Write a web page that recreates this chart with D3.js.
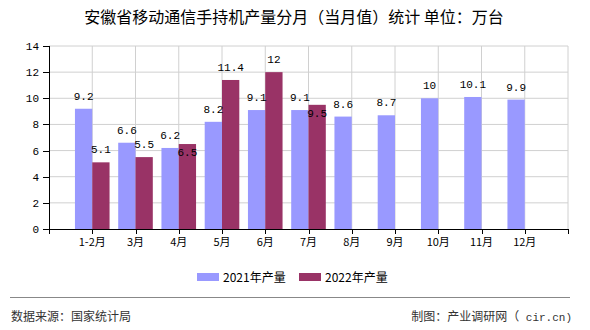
<!DOCTYPE html>
<html><head><meta charset="utf-8">
<script src="https://cdn.jsdelivr.net/npm/d3@7"></script>
<style>body{margin:0;background:#fff}svg{display:block}</style>
</head><body><svg id="c" width="590" height="330"></svg>
<script>
const categories = ["1-2月","3月","4月","5月","6月","7月","8月","9月","10月","11月","12月"];
const values2021 = [9.2,6.6,6.2,8.2,9.1,9.1,8.6,8.7,10,10.1,9.9];
const values2022 = [5.1,5.5,6.5,11.4,12,9.5,null,null,null,null,null];
const seriesNames = ["2021年产量","2022年产量"];
const yTicks = [0,2,4,6,8,10,12,14];
const colors = ["#9999FF","#993366"];

const svg = d3.select("#c");
const L=49,R=568,T=46,B=229;
const x = d3.scalePoint().domain(categories).range([L,R]).padding(1);
const y = d3.scaleLinear().domain([0,14]).range([B,T]);
const bw = x.step()*0.4;
const numFont = "'Liberation Mono','DejaVu Sans Mono',monospace";
const cjk = "'Noto Sans CJK SC','Noto Sans',sans-serif";

svg.append("text").attr("x",294).attr("y",23).attr("text-anchor","middle")
  .attr("font-family",cjk).attr("font-size",16).attr("fill","#000")
  .text("安徽省移动通信手持机产量分月（当月值）统计 单位：万台");

const g = svg.append("g");
// grid
g.selectAll(".hg").data(yTicks.filter(d=>d>0)).enter().append("line")
  .attr("x1",L).attr("x2",R).attr("y1",d=>y(d)).attr("y2",d=>y(d))
  .attr("stroke","#d0d0d0").attr("stroke-width",1);
const vx = [L].concat(categories.map(c=>x(c))).concat([R]);
g.selectAll(".vg").data(vx.slice(1)).enter().append("line")
  .attr("x1",d=>d).attr("x2",d=>d).attr("y1",T).attr("y2",B)
  .attr("stroke","#d0d0d0").attr("stroke-width",1);

// bars
g.selectAll(".b1").data(values2021).enter().append("rect")
  .attr("x",(d,i)=>x(categories[i])-bw).attr("width",bw)
  .attr("y",d=>y(d)).attr("height",d=>B-y(d)).attr("fill",colors[0]);
g.selectAll(".b2").data(values2022.map((v,i)=>({v,i})).filter(d=>d.v!=null)).enter().append("rect")
  .attr("x",d=>x(categories[d.i])).attr("width",bw)
  .attr("y",d=>y(d.v)).attr("height",d=>B-y(d.v)).attr("fill",colors[1]);

// axes
g.append("line").attr("x1",L+0.5).attr("x2",L+0.5).attr("y1",T).attr("y2",B+0.5).attr("stroke","#000");
g.append("line").attr("x1",L).attr("x2",R+0.5).attr("y1",B+0.5).attr("y2",B+0.5).attr("stroke","#000");
g.selectAll(".yt").data(yTicks).enter().append("line")
  .attr("x1",L-6).attr("x2",L).attr("y1",d=>Math.round(y(d))+0.5).attr("y2",d=>Math.round(y(d))+0.5).attr("stroke","#000");
g.selectAll(".yl").data(yTicks).enter().append("text")
  .attr("x",L-10).attr("y",d=>y(d)+4).attr("text-anchor","end")
  .attr("font-family",numFont).attr("font-size",11).attr("fill","#000").text(d=>d);
g.selectAll(".xt").data(vx).enter().append("line")
  .attr("x1",d=>Math.round(d)+0.5).attr("x2",d=>Math.round(d)+0.5).attr("y1",B).attr("y2",B+5).attr("stroke","#000");
g.selectAll(".xl").data(categories).enter().append("text")
  .attr("x",d=>x(d)).attr("y",B+17).attr("text-anchor","middle")
  .attr("font-family",cjk).attr("font-size",11).attr("fill","#000").text(d=>d);

// labels
const lab1 = values2021.map((v,i)=>({v,i,base:y(v)-9}));
g.selectAll(".l1").data(lab1).enter().append("text")
  .attr("x",d=>x(categories[d.i])-bw/2).attr("y",d=>d.base).attr("text-anchor","middle")
  .attr("font-family",numFont).attr("font-size",11).attr("fill","#000").text(d=>d.v);
const lab2 = values2022.map((v,i)=>({v,i})).filter(d=>d.v!=null).map(d=>{
  let base = y(d.v)-9;
  if (Math.abs(base - lab1[d.i].base) < 12) base = y(d.v)+12;
  return {...d, base};
});
g.selectAll(".l2").data(lab2).enter().append("text")
  .attr("x",d=>x(categories[d.i])+bw/2).attr("y",d=>d.base).attr("text-anchor","middle")
  .attr("font-family",numFont).attr("font-size",11).attr("fill","#000").text(d=>d.v);

// legend
const lx = [197,299];
seriesNames.forEach((n,i)=>{
  svg.append("rect").attr("x",lx[i]).attr("y",273).attr("width",22).attr("height",8).attr("fill",colors[i]);
  svg.append("text").attr("x",lx[i]+26).attr("y",282).attr("font-family",cjk).attr("font-size",12).attr("fill","#000").text(n);
});

// footer
svg.append("line").attr("x1",10).attr("x2",570).attr("y1",297.5).attr("y2",297.5).attr("stroke","#888");
svg.append("text").attr("x",11).attr("y",321).attr("font-family",cjk).attr("font-size",12).attr("fill","#333").text("数据来源：国家统计局");
const ft = svg.append("text").attr("x",572).attr("y",321).attr("text-anchor","end").attr("font-family",cjk).attr("font-size",12).attr("fill","#333");
ft.append("tspan").text("制图：产业调研网（");
ft.append("tspan").attr("font-family",numFont).attr("font-size",11).text(" cir.cn)");
</script></body></html>
